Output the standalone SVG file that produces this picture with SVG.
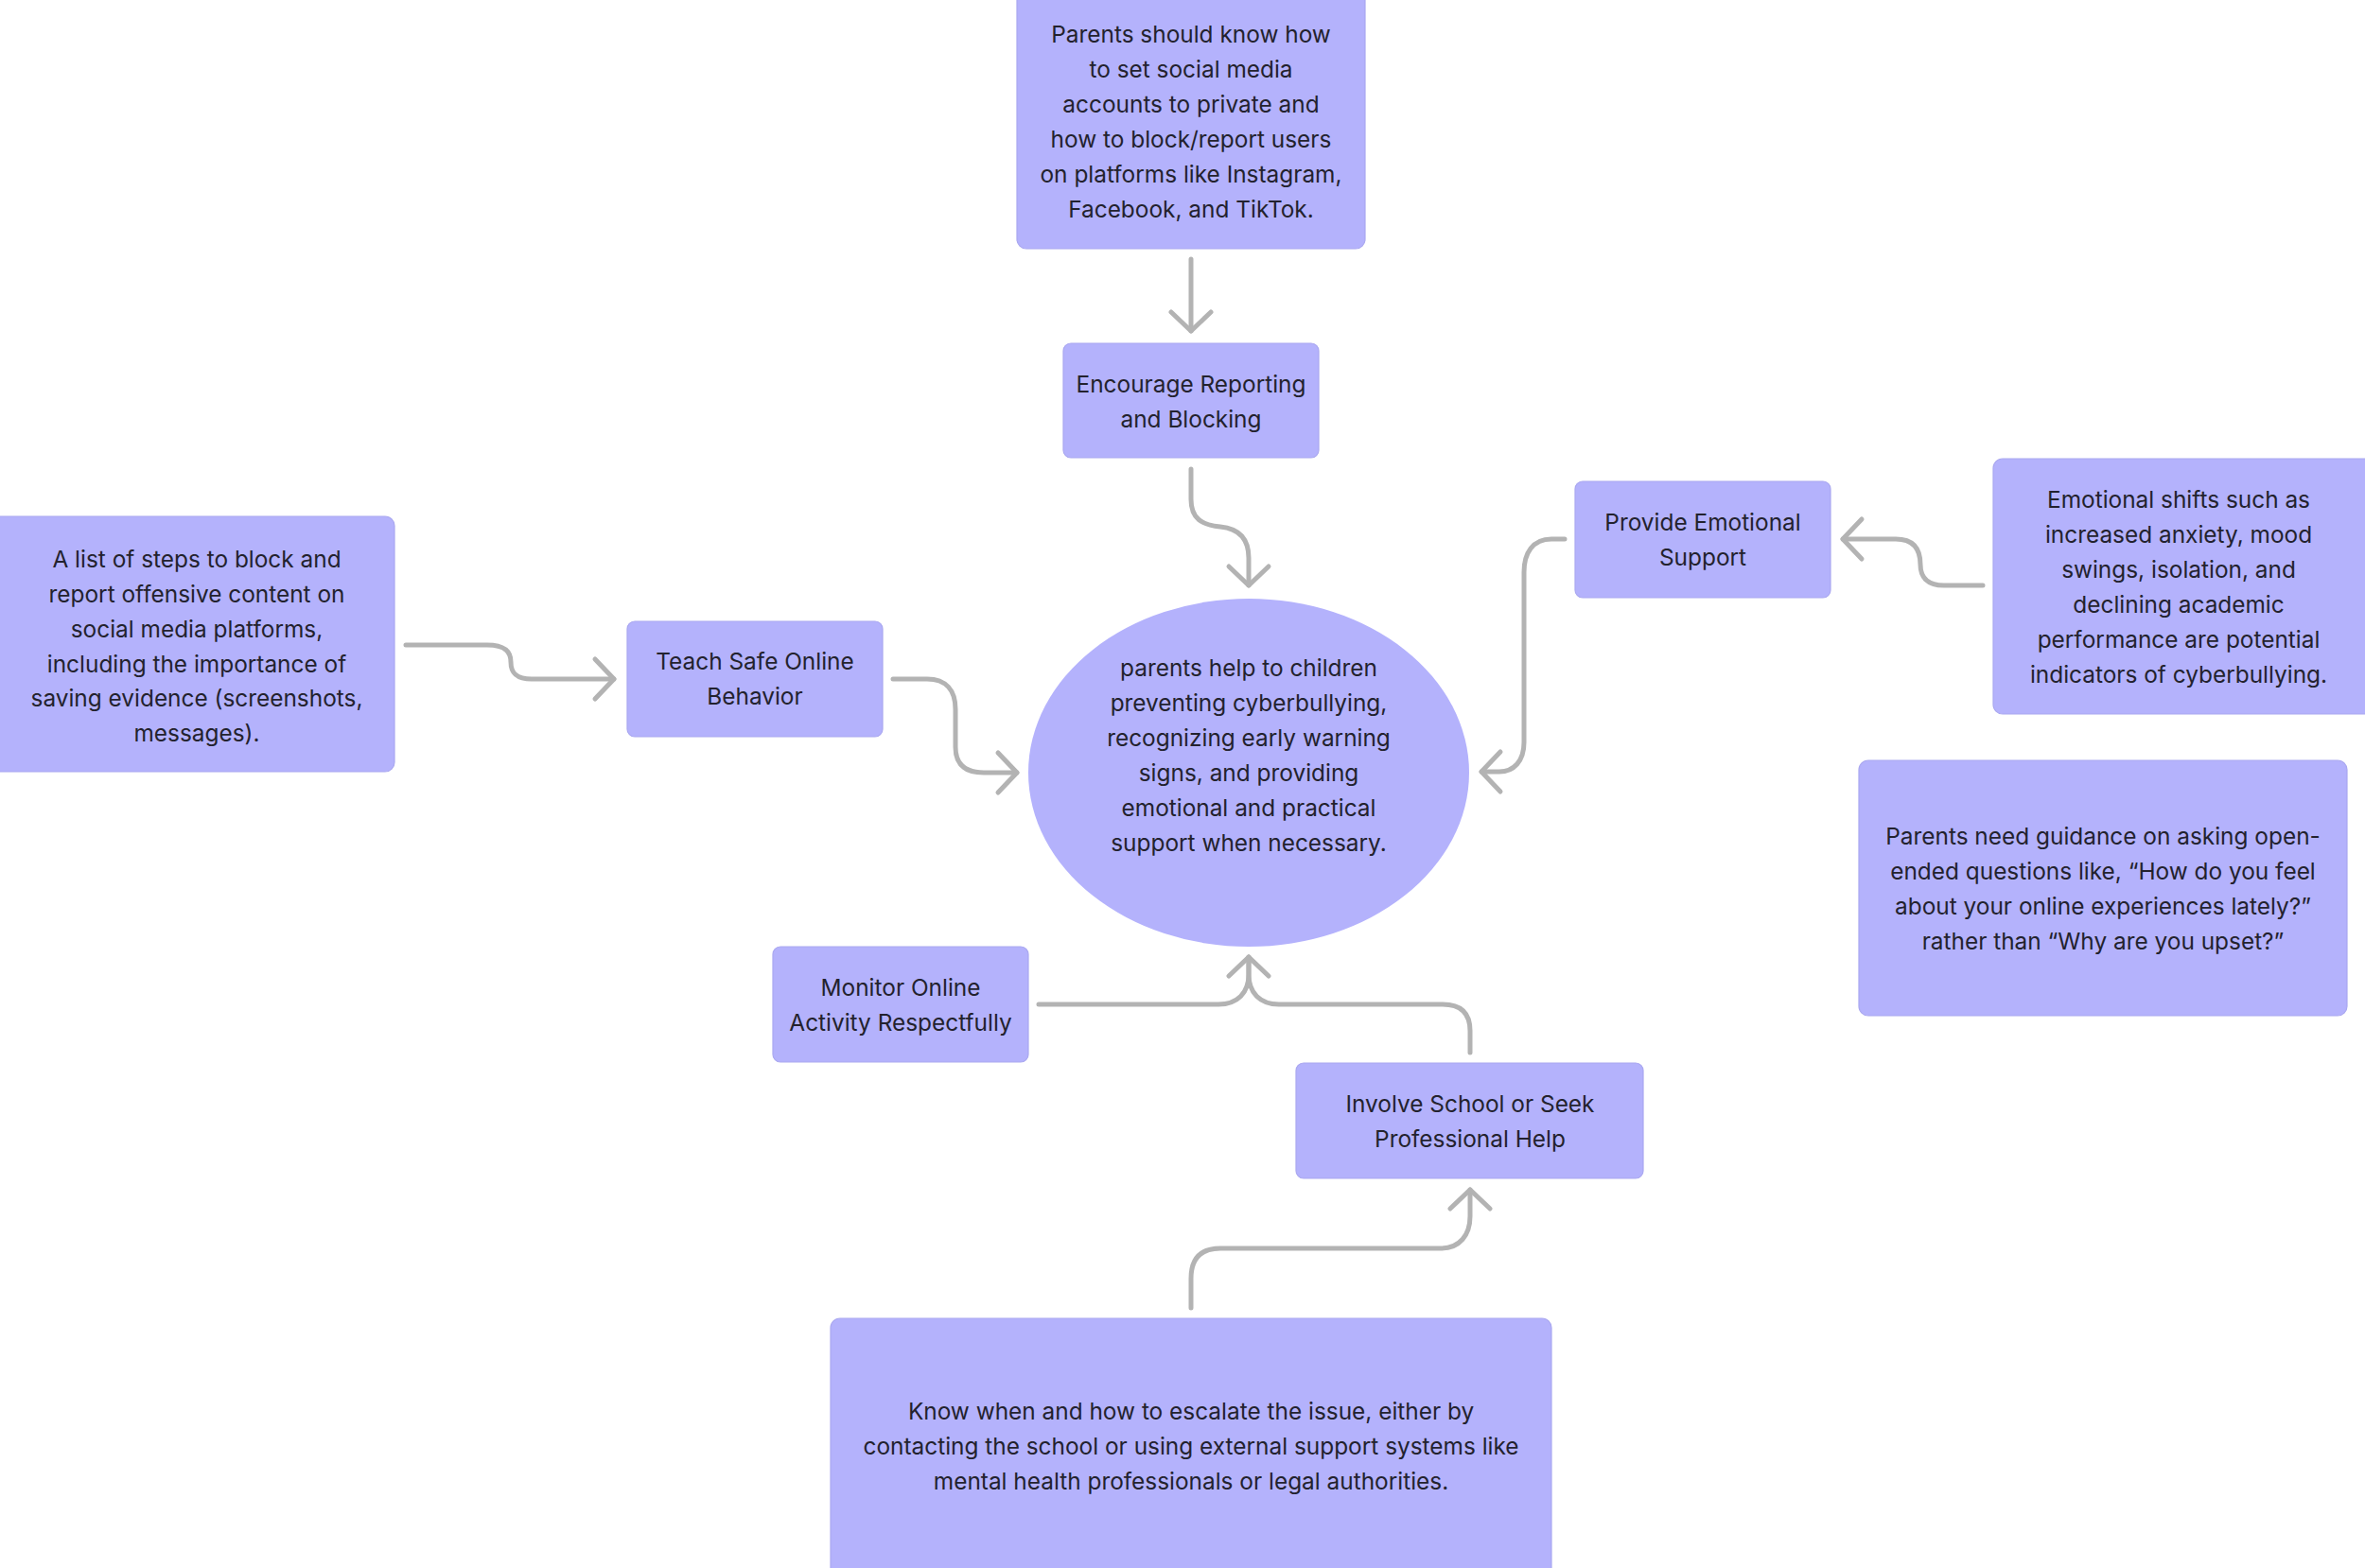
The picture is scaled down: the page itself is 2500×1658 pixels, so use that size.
<svg xmlns="http://www.w3.org/2000/svg" width="2500" height="1658" viewBox="0 0 2500 1658">
<style>
.box{fill:#b4b2fc;stroke:#aaa8f0;stroke-width:1.2}
.t{font-family:Inter,"Noto Sans","Liberation Sans",sans-serif;font-size:24.4px;fill:#23222e;text-anchor:middle}
.c{fill:none;stroke:#b3b3b3;stroke-width:5;stroke-linecap:round;stroke-linejoin:round}
</style>
<defs>
<marker id="ah" markerUnits="userSpaceOnUse" viewBox="-26 -26 32 52" markerWidth="32" markerHeight="52" refX="0" refY="0" orient="auto" overflow="visible">
<path d="M-20,-21 L0,0 L-20,21" fill="none" stroke="#b3b3b3" stroke-width="5" stroke-linecap="round" stroke-linejoin="round"/>
</marker>
</defs>
<rect width="2500" height="1658" fill="#ffffff"/>
<g id="connectors">
<path class="c" d="M1259 274 V350" marker-end="url(#ah)"/>
<path class="c" d="M1259 496 V528 C1259 548 1270 555 1290 557 C1310 559 1320 570 1320 590 V619" marker-end="url(#ah)"/>
<path class="c" d="M429 682 H515 C535 682 540 690 540 700 C540 712 546 718 562 718 H649" marker-end="url(#ah)"/>
<path class="c" d="M944 718 H980 C1000 718 1010 730 1010 750 V790 C1010 808 1020 817 1040 817 H1075" marker-end="url(#ah)"/>
<path class="c" d="M1654 570 H1640 C1620 570 1611 585 1611 605 V785 C1611 805 1600 816 1585 816 H1566" marker-end="url(#ah)"/>
<path class="c" d="M2096 619 H2055 C2037 619 2030 610 2030 597 C2030 580 2022 570 2004 570 H1948" marker-end="url(#ah)"/>
<path class="c" d="M1098 1062 H1288 C1308 1062 1320 1050 1320 1030 V1012" marker-end="url(#ah)"/>
<path class="c" d="M1554 1113 V1090 C1554 1072 1545 1062 1525 1062 H1352 C1332 1062 1320 1050 1320 1030 V1012"/>
<path class="c" d="M1259 1383 V1352 C1259 1332 1268 1320 1290 1320 H1523 C1543 1320 1554 1306 1554 1286 V1258" marker-end="url(#ah)"/>
</g>
<g id="node-privacy">
<rect class="box" x="1075" y="-12" width="368" height="275" rx="10"/>
<text class="t"><tspan x="1259" y="45">Parents should know how</tspan><tspan x="1259" y="82">to set social media</tspan><tspan x="1259" y="119">accounts to private and</tspan><tspan x="1259" y="156">how to block/report users</tspan><tspan x="1259" y="193">on platforms like Instagram,</tspan><tspan x="1259" y="230">Facebook, and TikTok.</tspan></text>
</g>
<g id="node-encourage">
<rect class="box" x="1124" y="363" width="270" height="121" rx="8"/>
<text class="t"><tspan x="1259" y="415">Encourage Reporting</tspan><tspan x="1259" y="452">and Blocking</tspan></text>
</g>
<g id="node-steps">
<rect class="box" x="-10" y="546" width="427" height="270" rx="10"/>
<text class="t"><tspan x="208" y="600">A list of steps to block and</tspan><tspan x="208" y="637">report offensive content on</tspan><tspan x="208" y="674">social media platforms,</tspan><tspan x="208" y="711">including the importance of</tspan><tspan x="208" y="747">saving evidence (screenshots,</tspan><tspan x="208" y="784">messages).</tspan></text>
</g>
<g id="node-teach">
<rect class="box" x="663" y="657" width="270" height="122" rx="8"/>
<text class="t"><tspan x="798" y="708">Teach Safe Online</tspan><tspan x="798" y="745">Behavior</tspan></text>
</g>
<g id="node-center">
<ellipse cx="1320" cy="817" rx="233" ry="184" fill="#b4b2fc"/>
<text class="t"><tspan x="1320" y="715">parents help to children</tspan><tspan x="1320" y="752">preventing cyberbullying,</tspan><tspan x="1320" y="789">recognizing early warning</tspan><tspan x="1320" y="826">signs, and providing</tspan><tspan x="1320" y="863">emotional and practical</tspan><tspan x="1320" y="900">support when necessary.</tspan></text>
</g>
<g id="node-provide">
<rect class="box" x="1665" y="509" width="270" height="123" rx="8"/>
<text class="t"><tspan x="1800" y="561">Provide Emotional</tspan><tspan x="1800" y="598">Support</tspan></text>
</g>
<g id="node-shifts">
<rect class="box" x="2107" y="485" width="405" height="270" rx="10"/>
<text class="t"><tspan x="2303" y="537">Emotional shifts such as</tspan><tspan x="2303" y="574">increased anxiety, mood</tspan><tspan x="2303" y="611">swings, isolation, and</tspan><tspan x="2303" y="648">declining academic</tspan><tspan x="2303" y="685">performance are potential</tspan><tspan x="2303" y="722">indicators of cyberbullying.</tspan></text>
</g>
<g id="node-guidance">
<rect class="box" x="1965" y="804" width="516" height="270" rx="10"/>
<text class="t"><tspan x="2223" y="893">Parents need guidance on asking open-</tspan><tspan x="2223" y="930">ended questions like, “How do you feel</tspan><tspan x="2223" y="967">about your online experiences lately?”</tspan><tspan x="2223" y="1004">rather than “Why are you upset?”</tspan></text>
</g>
<g id="node-monitor">
<rect class="box" x="817" y="1001" width="270" height="122" rx="8"/>
<text class="t"><tspan x="952" y="1053">Monitor Online</tspan><tspan x="952" y="1090">Activity Respectfully</tspan></text>
</g>
<g id="node-involve">
<rect class="box" x="1370" y="1124" width="367" height="122" rx="8"/>
<text class="t"><tspan x="1554" y="1176">Involve School or Seek</tspan><tspan x="1554" y="1213">Professional Help</tspan></text>
</g>
<g id="node-escalate">
<rect class="box" x="878" y="1394" width="762" height="290" rx="10"/>
<text class="t"><tspan x="1259" y="1501">Know when and how to escalate the issue, either by</tspan><tspan x="1259" y="1538">contacting the school or using external support systems like</tspan><tspan x="1259" y="1575">mental health professionals or legal authorities.</tspan></text>
</g>
</svg>
